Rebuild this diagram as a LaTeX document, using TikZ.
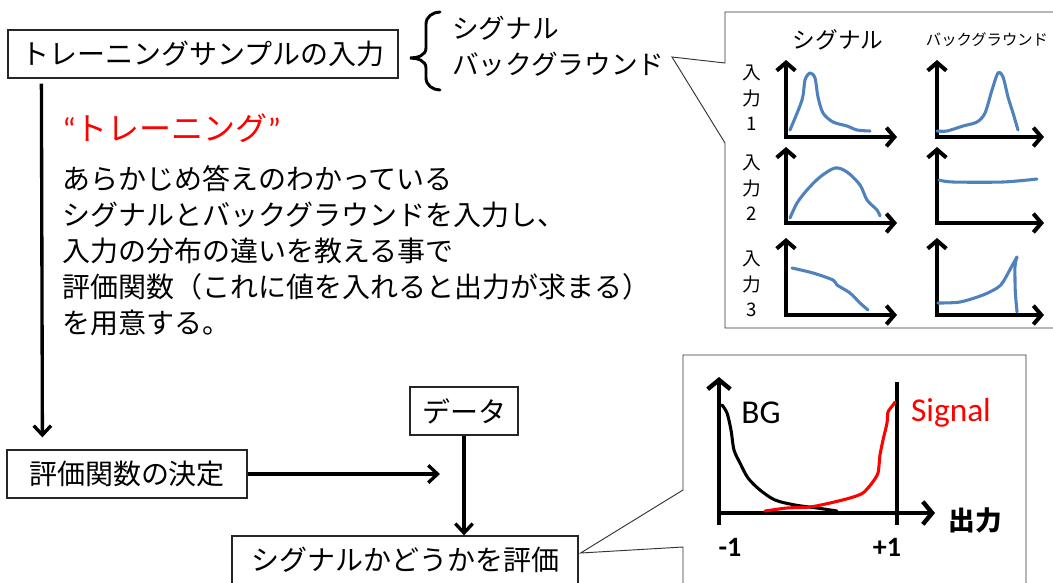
\documentclass[tikz,border=0pt]{standalone}
\usepackage{fontspec}
\setmainfont{Carlito}
\newfontfamily\jp{Noto Sans CJK JP}
\newfontfamily\latin{Carlito}
\usetikzlibrary{arrows.meta,calc}
\definecolor{sigblue}{RGB}{79,129,189}
\definecolor{sigred}{RGB}{255,0,0}
\begin{document}
\begin{tikzpicture}[x=0.75pt,y=-0.75pt,
  box/.style={draw=black!85, line width=0.9pt, inner sep=0pt, font=\jp\fontsize{21}{25}\selectfont, minimum height=36pt},
  arr/.style={line width=2.5pt, -{Straight Barb[length=7pt,width=13pt]}},
  axis/.style={line width=3pt, line join=miter, {Straight Barb[length=6pt,width=14pt]}-{Straight Barb[length=6pt,width=14pt]}},
  baxis/.style={line width=3.3pt},
  bbarb/.style={-{Straight Barb[length=7pt,width=17pt]}},
  sig/.style={sigblue, line width=2.3pt, line cap=round, line join=round},
  hand/.style={line width=2.3pt, line cap=round, line join=round},
  callout/.style={draw=black!80, line width=0.7pt, fill=white},
  lbl/.style={inner sep=0pt}
]
\useasboundingbox (0,0) rectangle (1053,582);
\clip (0,0) rectangle (1053,582);

% ---- main flow boxes ----
\node[box, minimum width=292.5pt] (A) at (203,54) {トレーニングサンプルの入力};
\node[box, minimum width=180pt] (B) at (127,474) {評価関数の決定};
\node[box, minimum width=81pt] (D) at (464,411) {データ};
\node[box, minimum width=259.5pt] (C) at (405,560) {シグナルかどうかを評価};

% brace and its labels
\draw[line width=2.2pt, line cap=round] (440,12) to[out=180,in=90] (426,24) -- (426,48)
  to[out=-90,in=0] (410,58) to[out=0,in=90] (426,68) -- (426,78) to[out=-90,in=180] (440,90);
\node[lbl, anchor=west, font=\jp\fontsize{20}{23}\selectfont] (s1) at (452,28) {シグナル};
\node[lbl, anchor=west, font=\jp\fontsize{20}{23}\selectfont] (s2) at (452,64) {バックグラウンド};

% red heading and explanation
\node[lbl, anchor=west, text=sigred, font=\jp\fontsize{24}{28}\selectfont] (T) at (62,128) {{\latin “}トレーニング{\latin ”}};
\node[lbl, anchor=north west, align=left, font=\jp\fontsize{21}{27}\selectfont] (body) at (62,165)
  {あらかじめ答えのわかっている\\
   シグナルとバックグラウンドを入力し、\\
   入力の分布の違いを教える事で\\
   評価関数（これに値を入れると出力が求まる）\\
   を用意する。};

% connectors
\draw[arr] ($(A.south west)+(34,5)$) -- ($(A.south west |- B.north)+(35,-12)$);
\coordinate (bt) at (440,474);
\draw[arr] (B.east) -- (bt);
\draw[arr] (D.south) -- (D.south |- C.north);

% ---- top callout ----
\draw[callout] (725,63) -- (725,12) -- (1060,12) -- (1060,328) -- (725,328) -- (725,143) -- (672,57) -- cycle;
\node[lbl, font=\jp\fontsize{17}{20}\selectfont] (h1) at (838,40) {シグナル};
\node[lbl, font=\jp\fontsize{11.5}{13}\selectfont] (h2) at (987,40) {バックグラウンド};
\node[lbl, align=center, font=\jp\fontsize{14}{19}\selectfont] (r1) at (752,98) {入\\力\\1};
\node[lbl, align=center, font=\jp\fontsize{14}{19}\selectfont] (r2) at (752,188) {入\\力\\2};
\node[lbl, align=center, font=\jp\fontsize{14}{19}\selectfont] (r3) at (752,284) {入\\力\\3};

\draw[axis] (786,60) -- (786,137) -- (897,137);
\draw[axis] (937,60) -- (937,137) -- (1044,137);
\draw[axis] (786,147) -- (786,223) -- (897,223);
\draw[axis] (937,147) -- (937,223) -- (1044,223);
\draw[axis] (786,238) -- (786,315) -- (897,315);
\draw[axis] (937,238) -- (937,315) -- (1044,315);

\draw[sig] plot[smooth, tension=0.5] coordinates {(790,130) (802,100) (805,80) (810,73) (815,78) (818,97) (823,113) (833,122) (847,126) (857,130) (870,131)};
\draw[sig] plot[smooth, tension=0.5] coordinates {(937,131) (947,131) (963,126) (977,122) (985,113) (992,90) (998,73) (1003,77) (1008,97) (1013,113) (1018,130)};
\draw[sig] plot[smooth, tension=0.5] coordinates {(790,218) (797,203) (807,190) (820,177) (835,168) (847,172) (860,185) (867,200) (877,210) (880,216)};
\draw[sig] plot[smooth, tension=0.5] coordinates {(939,180) (953,182) (1003,182) (1037,179)};
\draw[sig] plot[smooth, tension=0.5] coordinates {(792,268) (813,273) (833,280) (837,285) (850,293) (860,303) (868,310)};
\draw[sig] plot[smooth, tension=0.5] coordinates {(938,303) (960,302) (983,295) (997,288) (1003,282) (1013,264) (1017,257)};
\draw[sig] (1017,257) to[out=-110,in=90] (1015,280) to[out=-90,in=95] (1017,312);

% ---- bottom callout ----
\draw[callout] (683,490) -- (683,355) -- (1026,355) -- (1026,595) -- (683,595) -- (683,547) -- ($(C.east)+(2,-7)$) -- cycle;
\draw[baxis, bbarb] (719,525) -- (719,377);
\draw[baxis, bbarb] (719,513) -- (935,513);
\draw[baxis] (897,382) -- (897,525);
\draw[hand, black] plot[smooth, tension=0.5] coordinates {(722,405) (727,413) (731,430) (734,450) (740,463) (748,478) (760,490) (775,500) (795,505) (817,508) (837,511)};
\draw[hand, sigred] plot[smooth, tension=0.4] coordinates {(765,511) (787,508) (810,507) (830,503) (850,498) (863,493) (872,483) (878,473) (880,455) (883,440) (887,423) (888,412) (893,405) (895,402)};
\node[lbl, font=\latin\fontsize{25}{28}\selectfont] (bg) at (761,413) {BG};
\node[lbl, text=sigred, font=\latin\fontsize{25}{28}\selectfont] (sg) at (951,413) {Signal};
\node[lbl, font=\jp\bfseries\fontsize{20}{24}\selectfont] (out) at (975,520) {出力};
\node[lbl, font=\latin\bfseries\fontsize{21}{24}\selectfont] (m1) at (730,547) {-1};
\node[lbl, font=\latin\bfseries\fontsize{21}{24}\selectfont] (p1) at (887,547) {+1};
\end{tikzpicture}
\end{document}
